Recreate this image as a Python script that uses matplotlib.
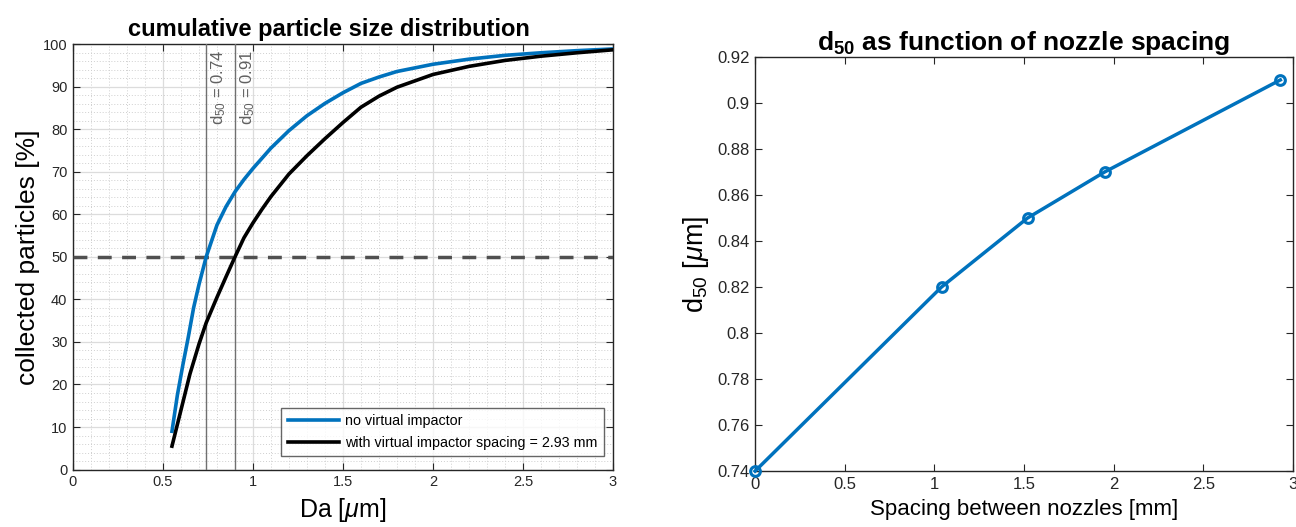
import matplotlib
matplotlib.use("Agg")
import matplotlib.pyplot as plt
from matplotlib.ticker import MultipleLocator, FuncFormatter

plt.rcParams["font.family"] = ["Liberation Sans", "DejaVu Sans"]
plt.rcParams["mathtext.fontset"] = "custom"
plt.rcParams["mathtext.rm"] = "Liberation Sans"
plt.rcParams["mathtext.it"] = "Liberation Sans:italic"
plt.rcParams["mathtext.bf"] = "Liberation Sans:bold"

# cumulative distribution, no virtual impactor
da_blue = [0.55, 0.58, 0.61, 0.64, 0.67, 0.7, 0.74, 0.8, 0.85, 0.9, 0.95, 1.0,
           1.1, 1.2, 1.3, 1.4, 1.5, 1.6, 1.7, 1.8, 2.0, 2.2, 2.4, 2.6, 2.8, 3.0]
cum_blue = [9, 17.5, 24.5, 31, 38, 43.5, 50, 57.5, 61.8, 65.3, 68.2, 70.8,
            75.6, 79.7, 83.2, 86.1, 88.6, 90.8, 92.3, 93.6, 95.3, 96.5, 97.4,
            98.0, 98.5, 98.9]

# cumulative distribution, with virtual impactor (2.93 mm)
da_black = [0.55, 0.6, 0.65, 0.7, 0.74, 0.8, 0.85, 0.9, 0.95, 1.0, 1.05, 1.1,
            1.2, 1.3, 1.4, 1.5, 1.6, 1.7, 1.8, 2.0, 2.2, 2.4, 2.6, 2.8, 3.0]
cum_black = [5.5, 14, 22.5, 29.5, 34.5, 40.5, 45.3, 50, 54.5, 58, 61.2, 64.2,
             69.5, 73.8, 77.8, 81.6, 85.2, 87.8, 89.9, 92.9, 94.8, 96.2, 97.2,
             98.0, 98.7]

d50_lines = [0.74, 0.9]
d50_labels = ["0.74", "0.91"]

# d50 vs nozzle spacing
spacing = [0, 1.04, 1.52, 1.95, 2.93]
d50 = [0.74, 0.82, 0.85, 0.87, 0.91]

blue = "#0072BD"
axcol = "#262626"

fig = plt.figure(figsize=(12.96, 5.27), dpi=100)
ax1 = fig.add_axes([0.0563, 0.109, 0.4167, 0.807])
ax2 = fig.add_axes([0.5826, 0.106, 0.4150, 0.786])

# ---- left panel
ax1.plot(da_blue, cum_blue, color=blue, lw=2.6, label="no virtual impactor", zorder=4)
ax1.plot(da_black, cum_black, color="black", lw=2.6,
         label="with virtual impactor spacing = 2.93 mm", zorder=4)
ax1.axhline(50, color="#505050", lw=2.5, ls=(0, (4, 3)), zorder=3)
for xv, lab in zip(d50_lines, d50_labels):
    ax1.axvline(xv, color="#707070", lw=1.0, zorder=3)
    ax1.text(xv + 0.02, 98.8, r"d$_{50}$ = " + lab, rotation=90, ha="left", va="top",
             color="#606060", fontsize=12)
ax1.set_xlim(0, 3)
ax1.set_ylim(0, 100)
ax1.xaxis.set_major_locator(MultipleLocator(0.5))
ax1.xaxis.set_minor_locator(MultipleLocator(0.1))
ax1.yaxis.set_major_locator(MultipleLocator(10))
ax1.yaxis.set_minor_locator(MultipleLocator(2))
ax1.xaxis.set_major_formatter(FuncFormatter(lambda v, p: f"{v:g}"))
ax1.grid(True, which="major", color="#dcdcdc", lw=0.9)
ax1.grid(True, which="minor", color="#cfcfcf", lw=0.7, ls=(0, (1, 2)))
ax1.set_axisbelow(True)
ax1.set_title("cumulative particle size distribution", fontsize=17, fontweight="bold",
              pad=6, x=0.474)
ax1.set_xlabel(r"Da [$\mu$m]", fontsize=18, labelpad=5)
ax1.set_ylabel("collected particles [%]", fontsize=19, labelpad=2)
leg = ax1.legend(loc="lower right", bbox_to_anchor=(0.983, 0.031), borderaxespad=0,
                 fontsize=10.3, frameon=True, fancybox=False, edgecolor="#404040",
                 handlelength=3.6, handletextpad=0.4, labelspacing=0.55, borderpad=0.45)
leg.get_frame().set_linewidth(1.0)

# ---- right panel
ax2.plot(spacing, d50, color=blue, lw=2.5, marker="o", ms=7, mfc="none",
         mec=blue, mew=2.2, clip_on=False, zorder=4)
ax2.set_xlim(0, 3)
ax2.set_ylim(0.74, 0.92)
ax2.xaxis.set_major_locator(MultipleLocator(0.5))
ax2.yaxis.set_major_locator(MultipleLocator(0.02))
ax2.xaxis.set_major_formatter(FuncFormatter(lambda v, p: f"{v:g}"))
ax2.yaxis.set_major_formatter(FuncFormatter(lambda v, p: f"{round(v, 2):g}"))
ax2.set_title(r"d$_{\mathbf{50}}$ as function of nozzle spacing", fontsize=19,
              fontweight="bold", pad=4)
ax2.set_xlabel("Spacing between nozzles [mm]", fontsize=16, labelpad=5)
ax2.set_ylabel(r"d$_{50}$ [$\mu$m]", fontsize=19.5, labelpad=4)

for ax, ls in ((ax1, 10.5), (ax2, 12)):
    for s in ax.spines.values():
        s.set_color(axcol)
        s.set_linewidth(1.0)
    ax.tick_params(which="both", direction="in", top=True, right=True,
                   colors=axcol, labelsize=ls, labelcolor=axcol, pad=4)
    ax.tick_params(which="major", length=5)
    ax.tick_params(which="minor", length=0)

fig.savefig("out.png", dpi=100)
